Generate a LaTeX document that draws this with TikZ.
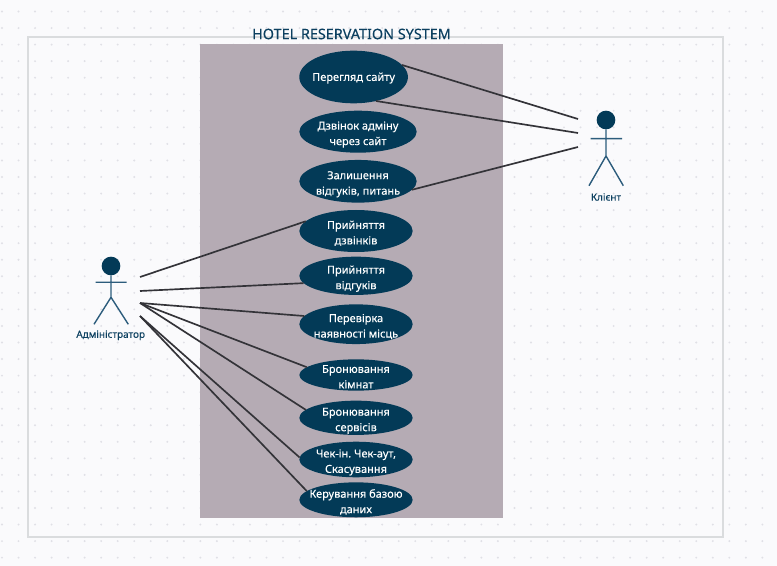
\documentclass[tikz,border=0pt]{standalone}
\usepackage{fontspec}
\setmainfont{Noto Sans}[FakeBold=0.25]
\usetikzlibrary{shapes.geometric}
\definecolor{pagebg}{HTML}{FAFAFC}
\definecolor{griddot}{HTML}{E0E0E6}
\definecolor{frameline}{HTML}{DADCDE}
\definecolor{sysfill}{HTML}{B5ABB4}
\definecolor{ucfill}{HTML}{033A57}
\definecolor{titlecol}{HTML}{0C4060}
\definecolor{actorcol}{HTML}{2C5C7C}
\definecolor{linkcol}{HTML}{333338}
\frenchspacing
\newcommand{\uct}[1]{\smash{\makebox[0pt][c]{\raisebox{-3.9pt}{\fontsize{8.25}{11.6}\selectfont\begin{tabular}{@{}c@{}}#1\end{tabular}}}}}
\tikzset{
  usecase/.style={shape=ellipse,fill=ucfill,text=white,inner sep=0pt,outer sep=0pt},
  link/.style={draw=linkcol,line width=1.25pt},
  actorline/.style={draw=actorcol,line width=1.05pt},
  actorname/.style={text=titlecol,font=\fontsize{7.45}{10}\selectfont,inner sep=0pt},
  actorhead/.style={shape=circle,fill=ucfill,minimum size=14pt,inner sep=0pt,outer sep=0pt}
}
\begin{document}
\begin{tikzpicture}[x=0.75pt,y=-0.75pt]
\useasboundingbox (0,0) rectangle (777,566);
\fill[pagebg] (0,0) rectangle (777,566);
\foreach \i in {0,...,46}{\foreach \j in {0,...,33}{
  \fill[griddot] ({2+16.53*\i},{11.5+16.55*\j}) circle[radius=0.8pt];}}
\draw[frameline,line width=1.5pt] (27.5,37) rectangle (723,537);
\fill[sysfill] (200,44) rectangle (503.3,518.3);
\node[text=titlecol,font=\fontsize{10.8}{12}\selectfont,inner sep=0pt] (title) at (351.5,34) {HOTEL RESERVATION SYSTEM};

\node[usecase,minimum width=81.5pt,minimum height=39.5pt] (e1) at (353.6,77) {\uct{\raisebox{1.3pt}{Перегляд сайту}}};
\node[usecase,minimum width=88pt,minimum height=31.5pt] (e2) at (358,131.7) {\uct{Дзвінок адміну\\через сайт}};
\node[usecase,minimum width=88pt,minimum height=32pt] (e3) at (358,181.3) {\uct{Залишення\\відгуків, питань}};
\node[usecase,minimum width=85pt,minimum height=31.5pt] (e4) at (356,231) {\uct{Прийняття\\дзвінків}};
\node[usecase,minimum width=85pt,minimum height=28.7pt] (e5) at (356,275.8) {\uct{Прийняття\\відгуків}};
\node[usecase,minimum width=85pt,minimum height=29.8pt] (e6) at (356,324.2) {\uct{Перевірка\\наявності місць}};
\node[usecase,minimum width=85pt,minimum height=23.5pt] (e7) at (356,375) {\uct{Бронювання\\кімнат}};
\node[usecase,minimum width=85pt,minimum height=25.7pt] (e8) at (356,417.8) {\uct{Бронювання\\сервісів}};
\node[usecase,minimum width=85pt,minimum height=26.7pt] (e9) at (356,459.5) {\uct{Чек-ін. Чек-аут,\\Скасування}};
\node[usecase,minimum width=85pt,minimum height=26.2pt] (e10) at (356,499.8) {\uct{Керування базою\\даних}};

% administrator
\node[actorhead] (adminhead) at (111,266) {};
\draw[actorline] (adminhead.south) -- (111,297.3) -- (94,324.3) (111,297.3) -- (128.3,324.3) (95.7,282.3) -- (126.7,282.3);
\node[actorname] (admin) at (110.7,335.3) {Адміністратор};
% client
\node[actorhead] (clienthead) at (606,120) {};
\draw[actorline] (clienthead.south) -- (606,156) -- (589,185.7) (606,156) -- (623.3,185.7) (590.7,138.7) -- (622,138.7);
\node[actorname] (client) at (606,197) {Клієнт};

\coordinate (c1) at (578,119);
\coordinate (c2) at (578,133);
\coordinate (c3) at (578,147);
\coordinate (a1) at (140,277);
\coordinate (a2) at (140,291);
\coordinate (a3) at (140,303);
\coordinate (a4) at (140,316);

\draw[link] (c1) -- (e1.14);
\draw[link] (c2) -- (e1.-47);
\draw[link] (c3) -- (e3.-9.5);
\draw[link] (a1) -- (e4.169.7);
\draw[link] (a2) -- (e5.188);
\draw[link] (a3) -- (e6.171);
\draw[link] (a3) -- (e7.171.5);
\draw[link] (a3) -- (e8.171);
\draw[link] (a4) -- (e9.178.5);
\draw[link] (a4) -- (e10.170);
\end{tikzpicture}
\end{document}
